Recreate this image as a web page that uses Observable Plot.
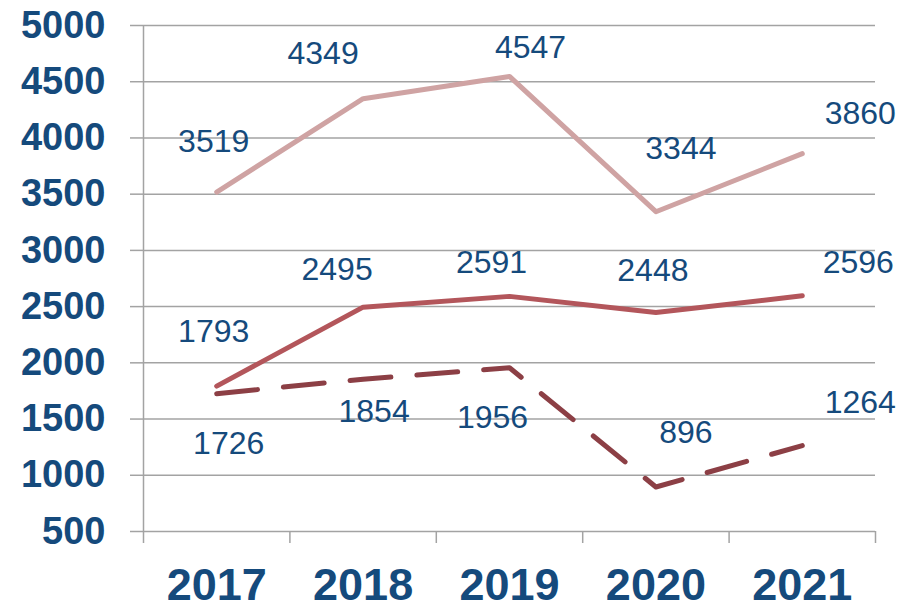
<!DOCTYPE html>
<html><head><meta charset="utf-8">
<script src="https://cdn.jsdelivr.net/npm/d3@7"></script>
<script src="https://cdn.jsdelivr.net/npm/@observablehq/plot@0.6"></script>
<style>html,body{margin:0;padding:0;background:#fff}</style>
</head><body><div id="chart"></div>
<script>
const years = [2017, 2018, 2019, 2020, 2021];
const seriesTop = [3519, 4349, 4547, 3344, 3860];
const seriesMid = [1793, 2495, 2591, 2448, 2596];
const seriesDash = [1726, 1854, 1956, 896, 1264];
const yTicks = [500, 1000, 1500, 2000, 2500, 3000, 3500, 4000, 4500, 5000];
const xBoundaries = [2016.5, 2017.5, 2018.5, 2019.5, 2020.5, 2021.5];

// label offsets (pixels) relative to each point
const offsetsTop = [[-3, -50], [-40, -45], [21, -29], [25, -63], [58, -40]];
const offsetsMid = [[-3, -54], [-26, -37], [-18, -34], [-3, -42], [56, -33]];
const offsetsDash = [[12, 50], [11, 32], [-17, 50], [30, -54], [58, -43]];

const textColor = "#154a7c";
const gridColor = "#a3a3a3";

const toRows = (vals) => years.map((year, i) => ({year, value: vals[i]}));
const rowsTop = toRows(seriesTop);
const rowsMid = toRows(seriesMid);
const rowsDash = toRows(seriesDash);

const labelMarks = [];
[[rowsTop, offsetsTop], [rowsMid, offsetsMid], [rowsDash, offsetsDash]].forEach(([rows, offs]) => {
  rows.forEach((d, i) => {
    labelMarks.push(Plot.text([d], {
      x: "year", y: "value", text: (r) => String(r.value),
      dx: offs[i][0], dy: offs[i][1],
      fill: textColor, fontSize: 32, fontWeight: "normal"
    }));
  });
});

const chart = Plot.plot({
  width: 902,
  height: 603,
  marginLeft: 143,
  marginRight: 27,
  marginTop: 25,
  marginBottom: 72,
  style: {fontFamily: "'Liberation Sans', Arial, sans-serif", background: "white", overflow: "visible"},
  x: {type: "linear", domain: [2016.5, 2021.5]},
  y: {domain: [500, 5000]},
  marks: [
    Plot.gridY(yTicks, {stroke: gridColor, strokeOpacity: 1, strokeWidth: 1.5}),
    Plot.ruleX([2016.5], {stroke: gridColor, strokeWidth: 1.5}),
    Plot.axisY({ticks: yTicks, tickSize: 13, tickPadding: 25, stroke: gridColor, strokeWidth: 1.5,
      fill: textColor, fontSize: 38, fontWeight: "bold", label: null, tickFormat: (d) => String(d)}),
    Plot.axisX({ticks: xBoundaries, tickSize: 12, stroke: gridColor, strokeWidth: 1.5,
      tickFormat: () => "", label: null}),
    Plot.axisX({ticks: years, tickSize: 0, tickPadding: 37, fill: textColor, fontSize: 45,
      fontWeight: "bold", label: null, tickFormat: (d) => String(d)}),
    Plot.lineY(rowsTop, {x: "year", y: "value", stroke: "#cfa3a3", strokeWidth: 5}),
    Plot.lineY(rowsMid, {x: "year", y: "value", stroke: "#b3565b", strokeWidth: 5}),
    Plot.lineY(rowsDash, {x: "year", y: "value", stroke: "#8c3f45", strokeWidth: 5,
      strokeDasharray: "41,26", strokeLinecap: "round"}),
    ...labelMarks
  ]
});
document.getElementById("chart").append(chart);
</script>
</body></html>
